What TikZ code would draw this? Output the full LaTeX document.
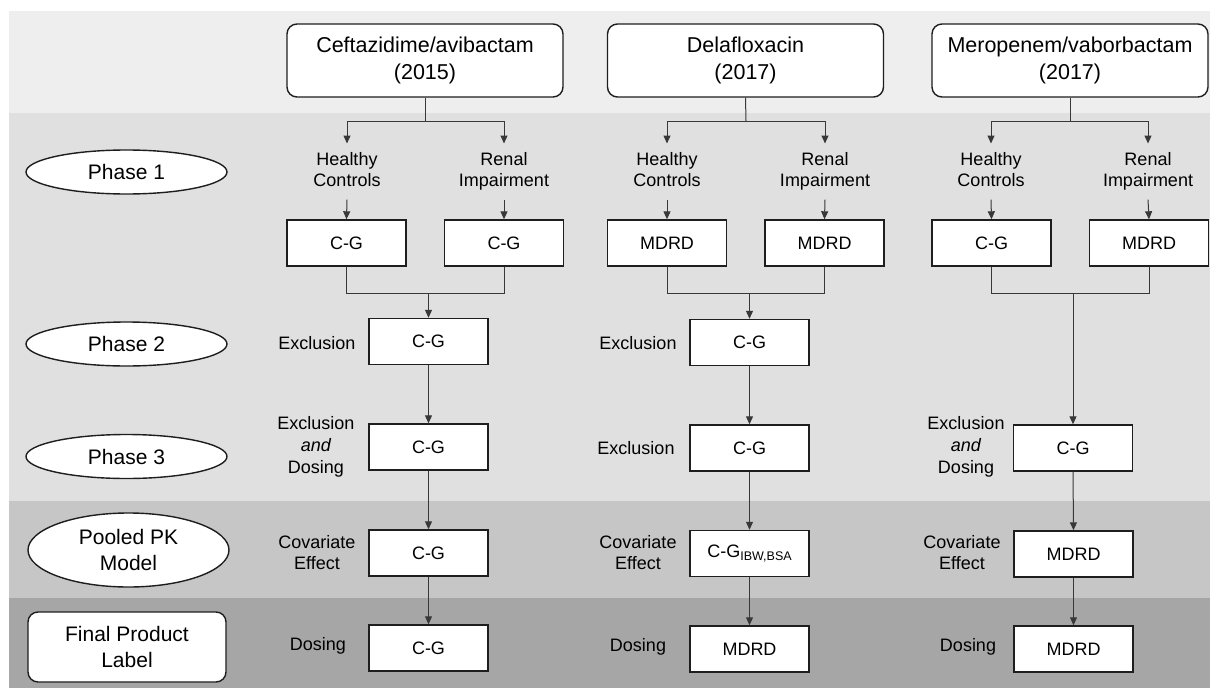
\documentclass[tikz,border=0pt]{standalone}
\usepackage{fontspec}
\setmainfont{Liberation Sans}
\usetikzlibrary{arrows.meta,shapes.geometric}
\definecolor{bandA}{HTML}{EEEEEE}
\definecolor{bandB}{HTML}{E0E0E0}
\definecolor{bandC}{HTML}{C6C6C6}
\definecolor{bandD}{HTML}{A6A6A6}
\definecolor{lineC}{HTML}{383838}
\definecolor{boxC}{HTML}{1E1E1E}
\begin{document}
\begin{tikzpicture}[x=1pt,y=-1pt,
 conn/.style={draw=lineC, line width=1pt},
 arr/.style={conn, -{Triangle[length=8pt,width=7pt]}},
 drugbox/.style={draw=boxC, line width=1.4pt, fill=white, rounded corners=10pt, minimum width=276pt, minimum height=73pt, inner sep=0pt, align=center, font=\fontsize{21.5}{27}\selectfont},
 eqbox/.style={draw=boxC, line width=1.4pt, fill=white, minimum width=119pt, minimum height=46pt, inner sep=0pt, font=\fontsize{18}{21}\selectfont},
 grp/.style={inner xsep=0pt, inner ysep=9pt, align=center, font=\fontsize{18}{21}\selectfont, anchor=north},
 lbl/.style={inner sep=0pt, align=center, font=\fontsize{18}{22}\selectfont},
 phase/.style={ellipse, draw=boxC, line width=1.4pt, fill=white, minimum width=201pt, minimum height=44pt, inner sep=0pt, align=center, font=\fontsize{21}{26}\selectfont},
 labelbox/.style={draw=boxC, line width=1.4pt, fill=white, rounded corners=10pt, minimum width=198pt, minimum height=70pt, inner sep=0pt, align=center, font=\fontsize{21}{26}\selectfont},
]
% canvas and bands
\useasboundingbox (0,0) rectangle (1210,688);
\fill[white] (0,0) rectangle (1210,688);
\fill[bandA] (9,11) rectangle (1210,113);
\fill[bandB] (9,113) rectangle (1210,501);
\fill[bandC] (9,501) rectangle (1210,598);
\fill[bandD] (9,598) rectangle (1210,688);

% phase labels
\node[phase] (ph1) at (126.5,172) {Phase 1};
\node[phase] (ph2) at (126.5,344) {Phase 2};
\node[phase] (ph3) at (126.5,456.5) {Phase 3};
\node[phase, minimum height=74pt] (ph4) at (128.5,550) {Pooled PK\\Model};
\node[labelbox] (ph5) at (127,647) {Final Product\\Label};

% ---------- column 1: Ceftazidime/avibactam ----------
\node[drugbox] (T1) at (425,60.5) {Ceftazidime/avibactam\\(2015)};
\coordinate (t1) at (425,121);
\node[grp] (hc1) at (347,143.5) {Healthy\\Controls\vphantom{p}};
\node[grp] (ri1) at (504,143.5) {Renal\\Impairment};
\node[eqbox] (b1a) at (346.5,243) {C-G};
\node[eqbox] (b1b) at (504,243) {C-G};
\coordinate (j1) at (428.5,293);
\node[eqbox] (p2a) at (428.5,341.5) {C-G};
\node[eqbox] (p3a) at (428.5,447) {C-G};
\node[eqbox] (pka) at (428.5,553) {C-G};
\node[eqbox] (fa) at (428.5,648) {C-G};
\node[lbl] (l2a) at (317,343) {Exclusion};
\node[lbl] (l3a) at (316,447) {Exclusion\\\textit{and}\\Dosing};
\node[lbl, font=\fontsize{18}{21}\selectfont] (lka) at (317,552.5) {Covariate\\Effect};
\node[lbl] (lfa) at (318,646) {Dosing};

\draw[conn] (T1.south) -- (t1);
\draw[arr] (t1) -| (hc1.north);
\draw[arr] (t1) -| (ri1.north);
\draw[arr] (hc1.south) -- (b1a.north);
\draw[arr] (ri1.south) -- (b1b.north);
\draw[conn] (b1a.south) |- (j1);
\draw[conn] (b1b.south) |- (j1);
\draw[arr] (j1) -- (p2a.north);
\draw[arr] (p2a.south) -- (p3a.north);
\draw[arr] (p3a.south) -- (pka.north);
\draw[arr] (pka.south) -- (fa.north);

% ---------- column 2: Delafloxacin ----------
\node[drugbox] (T2) at (745.5,60.5) {Delafloxacin\\(2017)};
\coordinate (t2) at (746,121);
\node[grp] (hc2) at (667,143.5) {Healthy\\Controls\vphantom{p}};
\node[grp] (ri2) at (825,143.5) {Renal\\Impairment};
\node[eqbox] (b2a) at (667,243) {MDRD};
\node[eqbox] (b2b) at (824.5,243) {MDRD};
\coordinate (j2) at (749.5,293);
\node[eqbox] (p2b) at (749.5,342.5) {C-G};
\node[eqbox] (p3b) at (749.5,448) {C-G};
\node[eqbox] (pkb) at (749.5,553.5) {C-G\raisebox{-3pt}{\fontsize{12.5}{14}\selectfont IBW,BSA}};
\node[eqbox] (fb) at (749.5,649) {MDRD};
\node[lbl] (l2b) at (638,343) {Exclusion};
\node[lbl] (l3b) at (636,448) {Exclusion};
\node[lbl, font=\fontsize{18}{21}\selectfont] (lkb) at (638,553) {Covariate\\Effect};
\node[lbl] (lfb) at (638,647) {Dosing};

\draw[conn] (T2.south) -- (t2);
\draw[arr] (t2) -| (hc2.north);
\draw[arr] (t2) -| (ri2.north);
\draw[arr] (hc2.south) -- (b2a.north);
\draw[arr] (ri2.south) -- (b2b.north);
\draw[conn] (b2a.south) |- (j2);
\draw[conn] (b2b.south) |- (j2);
\draw[arr] (j2) -- (p2b.north);
\draw[arr] (p2b.south) -- (p3b.north);
\draw[arr] (p3b.south) -- (pkb.north);
\draw[arr] (pkb.south) -- (fb.north);

% ---------- column 3: Meropenem/vaborbactam ----------
\node[drugbox] (T3) at (1070,60.5) {Meropenem/vaborbactam\\(2017)};
\coordinate (t3) at (1070,121);
\node[grp] (hc3) at (991,143.5) {Healthy\\Controls\vphantom{p}};
\node[grp] (ri3) at (1148,143.5) {Renal\\Impairment};
\node[eqbox] (b3a) at (991.5,243) {C-G};
\node[eqbox] (b3b) at (1149,243) {MDRD};
\coordinate (j3) at (1073,293);
\node[eqbox] (p3c) at (1073,448) {C-G};
\node[eqbox] (pkc) at (1073.5,554) {MDRD};
\node[eqbox] (fc) at (1073.5,649) {MDRD};
\node[lbl] (l3c) at (966,447) {Exclusion\\\textit{and}\\Dosing};
\node[lbl, font=\fontsize{18}{21}\selectfont] (lkc) at (962,553) {Covariate\\Effect};
\node[lbl] (lfc) at (968,647) {Dosing};

\draw[conn] (T3.south) -- (t3);
\draw[arr] (t3) -| (hc3.north);
\draw[arr] (t3) -| (ri3.north);
\draw[arr] (hc3.south) -- (b3a.north);
\draw[arr] (ri3.south) -- (b3b.north);
\draw[conn] (b3a.south) |- (j3);
\draw[conn] (b3b.south) |- (j3);
\draw[arr] (j3) -- (p3c.north);
\draw[arr] (p3c.south) -- (pkc.north);
\draw[arr] (pkc.south) -- (fc.north);
\end{tikzpicture}
\end{document}
